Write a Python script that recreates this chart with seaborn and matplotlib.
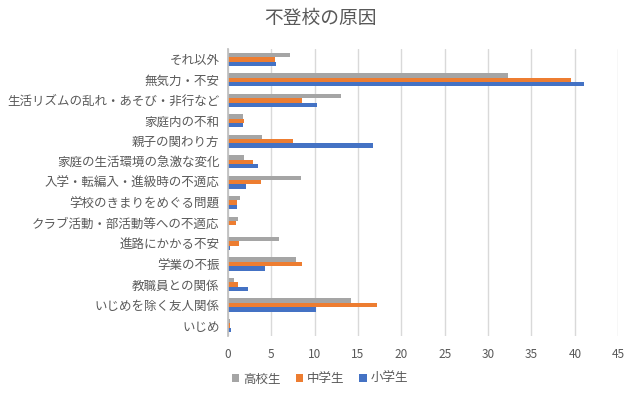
import matplotlib
matplotlib.use("Agg")
import matplotlib.pyplot as plt
import seaborn as sns
import pandas as pd

sns.set_theme(style="white")
plt.rcParams['font.family'] = ['Noto Sans CJK JP', 'DejaVu Sans']

categories = ['それ以外', '無気力・不安', '生活リズムの乱れ・あそび・非行など', '家庭内の不和',
              '親子の関わり方', '家庭の生活環境の急激な変化', '入学・転編入・進級時の不適応',
              '学校のきまりをめぐる問題', 'クラブ活動・部活動等への不適応', '進路にかかる不安',
              '学業の不振', '教職員との関係', 'いじめを除く友人関係', 'いじめ']
high = [7.2, 32.3, 13.0, 1.8, 3.9, 1.9, 8.4, 1.4, 1.2, 5.9, 7.9, 0.7, 14.2, 0.3]
middle = [5.4, 39.5, 8.6, 1.9, 7.5, 2.9, 3.8, 1.1, 0.9, 1.3, 8.5, 1.2, 17.2, 0.3]
elementary = [5.6, 41.1, 10.3, 1.7, 16.7, 3.5, 2.1, 1.1, 0.05, 0.3, 4.3, 2.3, 10.2, 0.4]
series = ['高校生', '中学生', '小学生']
colors = ['#A5A5A5', '#ED7D31', '#4472C4']

rows = []
for name, vals in zip(series, [high, middle, elementary]):
    for cat, v in zip(categories, vals):
        rows.append({'cat': cat, 'value': v, 'school': name})
df = pd.DataFrame(rows)

fig = plt.figure(figsize=(6.4, 3.96), dpi=100)
ax = fig.add_axes([0.356, 0.152, 0.61, 0.724])

sns.barplot(data=df, y='cat', x='value', hue='school', hue_order=series,
            order=categories, palette=colors, saturation=1, width=0.65,
            linewidth=0, ax=ax, orient='y')

ax.set_xlim(0, 45)
ax.set_xticks(range(0, 46, 5))
ax.set_xlabel('')
ax.set_ylabel('')
ax.grid(axis='x', color='#D9D9D9', linewidth=1)
ax.set_axisbelow(True)
for side in ['top', 'right', 'bottom']:
    ax.spines[side].set_visible(False)
ax.spines['left'].set_color('#BFBFBF')
ax.tick_params(axis='y', length=0, labelsize=9, colors='#595959', pad=6)
ax.tick_params(axis='x', length=0, labelsize=8.5, colors='#595959', pad=9)

handles, labels = ax.get_legend_handles_labels()
ax.get_legend().remove()
fig.legend(handles, labels, loc='center', bbox_to_anchor=(0.5, 0.043), ncol=3,
           frameon=False, fontsize=9, handlelength=0.6, handleheight=0.6,
           handletextpad=0.3, columnspacing=1.2, labelcolor='#595959')

fig.suptitle('不登校の原因', x=0.5, y=0.98, fontsize=13.5, color='#595959')

fig.savefig('out.png', dpi=100)
